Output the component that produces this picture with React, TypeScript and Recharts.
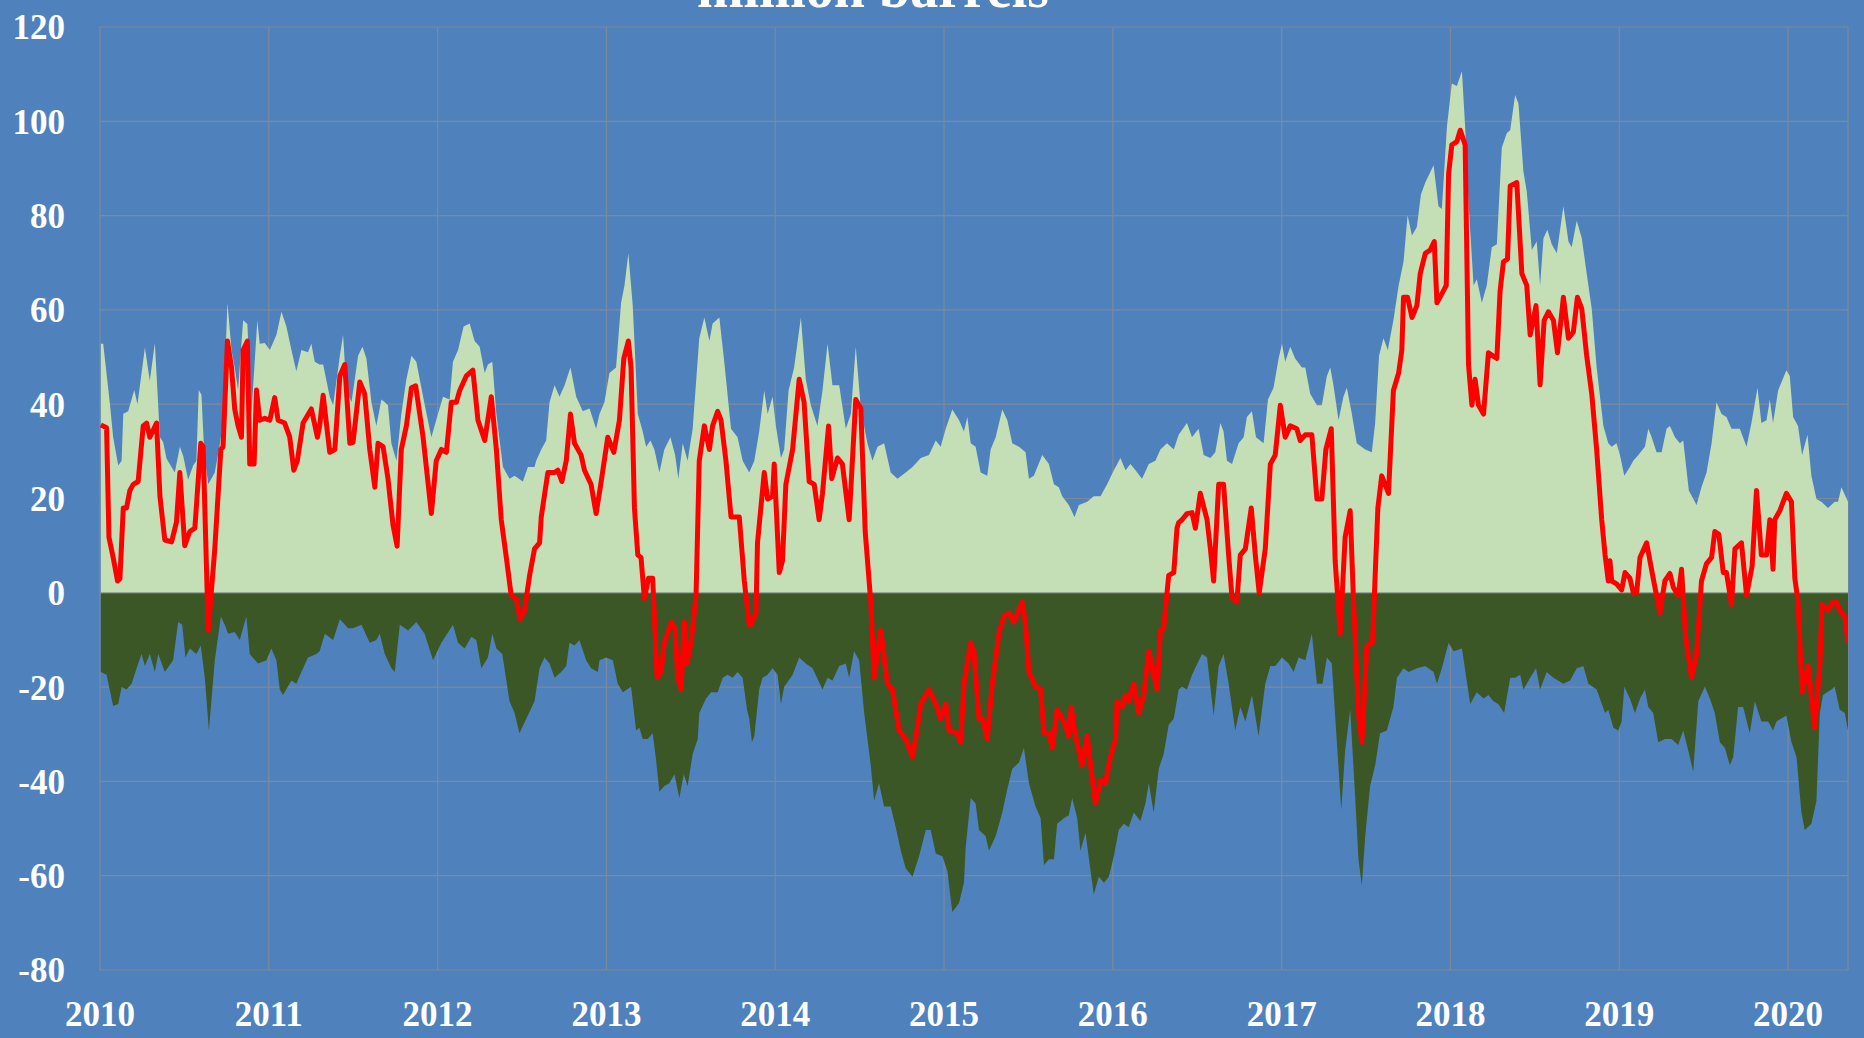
import { ComposedChart, Area, Line, XAxis, YAxis, CartesianGrid, ReferenceLine } from "recharts";

// weekly positioning, million barrels; [decimal year, value]
const LONG: [number, number][] = [
  [2010.005, 52.8], [2010.019, 52.8], [2010.059, 40], [2010.078, 33], [2010.108, 27], [2010.128, 28], [2010.138, 38], [2010.167, 38.5],
  [2010.203, 43], [2010.222, 40], [2010.266, 52], [2010.295, 45], [2010.325, 53], [2010.355, 33], [2010.374, 32], [2010.394, 28.5],
  [2010.443, 25.5], [2010.473, 31], [2010.493, 29], [2010.522, 24], [2010.552, 27], [2010.571, 28], [2010.585, 43], [2010.601, 42],
  [2010.617, 30], [2010.641, 23], [2010.68, 25.5], [2010.71, 31.5], [2010.729, 36.6], [2010.755, 61.5], [2010.779, 51.5], [2010.798, 47.8],
  [2010.818, 43], [2010.848, 57.8], [2010.873, 57], [2010.897, 38], [2010.932, 57.8], [2010.946, 52.8], [2010.976, 53], [2011.006, 51.5],
  [2011.045, 54.7], [2011.075, 59.6], [2011.104, 56.5], [2011.134, 51.5], [2011.163, 47], [2011.193, 51.5], [2011.232, 51], [2011.252, 52.8],
  [2011.272, 49], [2011.301, 48.4],
  [2011.322, 48.4], [2011.361, 41.6], [2011.381, 39.8], [2011.421, 50.3], [2011.44, 54.7], [2011.46, 43], [2011.49, 40.4], [2011.529, 50.3],
  [2011.555, 52.2], [2011.578, 49.7], [2011.608, 40.4], [2011.637, 35.4], [2011.667, 41], [2011.687, 40.4], [2011.706, 39.8], [2011.726, 31.7],
  [2011.756, 28], [2011.785, 37.9], [2011.815, 45.3], [2011.845, 50.3], [2011.874, 49], [2011.914, 41.6], [2011.963, 33], [2012.002, 37.9],
  [2012.032, 41.6], [2012.071, 41], [2012.091, 49], [2012.121, 51.5], [2012.154, 56.5], [2012.19, 57.1], [2012.219, 53.4], [2012.249, 52.2],
  [2012.279, 46.6], [2012.298, 48.4], [2012.324, 49], [2012.348, 37.9], [2012.387, 26.7], [2012.426, 24.2], [2012.456, 24.8], [2012.505, 23.6],
  [2012.535, 26.7], [2012.574, 26.7],
  [2012.584, 28], [2012.614, 30.4], [2012.643, 32.3], [2012.663, 40.4], [2012.693, 44], [2012.722, 41.6], [2012.752, 44], [2012.787, 47.8],
  [2012.821, 41.6], [2012.86, 38.5], [2012.9, 39.1], [2012.939, 34.8], [2012.959, 37.9], [2012.988, 40.4], [2013.018, 46.6], [2013.057, 47.8],
  [2013.087, 61.5], [2013.107, 65.2], [2013.13, 72], [2013.156, 60.9], [2013.186, 37.9], [2013.215, 34.2], [2013.235, 31], [2013.261, 32.3],
  [2013.284, 30.4], [2013.314, 25.5], [2013.343, 30.4], [2013.379, 33], [2013.407, 29.2], [2013.426, 24.2], [2013.452, 31.7], [2013.481, 28],
  [2013.511, 34.8], [2013.55, 54], [2013.58, 58.4], [2013.61, 53.4], [2013.629, 57.1], [2013.669, 58.4], [2013.698, 49], [2013.738, 34.8],
  [2013.777, 33], [2013.807, 28], [2013.846, 25.5],
  [2013.876, 28], [2013.905, 34.2], [2013.935, 42.9], [2013.955, 37.9], [2013.984, 41.6], [2014.004, 35.4], [2014.034, 28.6], [2014.053, 30.4],
  [2014.079, 42.9], [2014.112, 47.8], [2014.152, 58.4], [2014.181, 45.3], [2014.211, 39.8], [2014.25, 35.4], [2014.28, 42.9], [2014.31, 52.8],
  [2014.339, 44], [2014.379, 44], [2014.418, 34.8], [2014.448, 37.9], [2014.477, 52.2], [2014.507, 39.1], [2014.546, 31.7], [2014.576, 28],
  [2014.606, 31], [2014.645, 31.7], [2014.684, 25.5], [2014.724, 24.2], [2014.773, 25.5], [2014.813, 26.7], [2014.862, 28.6], [2014.911, 29.2],
  [2014.951, 32.3], [2014.98, 31], [2015.01, 34.8], [2015.049, 38.9], [2015.089, 36.6], [2015.118, 34.2],
  [2015.138, 37.3], [2015.158, 31.7], [2015.187, 31], [2015.217, 25.5], [2015.256, 24.8], [2015.276, 30.4], [2015.306, 33], [2015.345, 38.9],
  [2015.375, 36.6], [2015.404, 31.7], [2015.444, 31], [2015.483, 29.8], [2015.503, 24.2], [2015.532, 24.8], [2015.582, 29.2], [2015.621, 27.3],
  [2015.651, 23], [2015.68, 22.4], [2015.7, 20.5], [2015.739, 18.6], [2015.773, 16.1], [2015.799, 18.6], [2015.848, 19.3], [2015.887, 20.5],
  [2015.927, 20.5], [2015.966, 23], [2016.006, 26], [2016.045, 28.6], [2016.075, 26], [2016.104, 27.3], [2016.134, 26], [2016.173, 24.2],
  [2016.213, 27.3], [2016.252, 28], [2016.282, 30.4], [2016.321, 31.7], [2016.361, 30.4], [2016.39, 33.5],
  [2016.439, 36], [2016.469, 33], [2016.508, 34.8], [2016.538, 29.2], [2016.578, 28.6], [2016.607, 29.8], [2016.637, 36], [2016.656, 34.2],
  [2016.676, 28], [2016.706, 27.3], [2016.745, 31.7], [2016.775, 33], [2016.794, 37.3], [2016.824, 38.5], [2016.848, 33], [2016.893, 31.7],
  [2016.919, 41], [2016.952, 43.5], [2016.982, 49.7], [2017.002, 52.8], [2017.021, 49], [2017.051, 52.2], [2017.08, 49.7], [2017.12, 47.8],
  [2017.14, 47.8], [2017.169, 42.2], [2017.209, 39.8], [2017.238, 39.8], [2017.268, 46], [2017.288, 47.8], [2017.307, 44], [2017.337, 36.6],
  [2017.366, 41.6], [2017.386, 43.5], [2017.416, 37.9], [2017.445, 31.7], [2017.495, 30.4], [2017.534, 29.8], [2017.554, 36], [2017.577, 50.3],
  [2017.603, 54], [2017.629, 51.5], [2017.662, 57.8],
  [2017.693, 65.2], [2017.722, 70.2], [2017.746, 80.1], [2017.772, 75.8], [2017.801, 77.6], [2017.825, 84.5], [2017.851, 87], [2017.9, 90.7],
  [2017.929, 82], [2017.949, 81.4], [2017.979, 98.8], [2018.008, 108], [2018.038, 107.5], [2018.068, 110.6], [2018.087, 98.8], [2018.107, 82.6],
  [2018.137, 65.2], [2018.156, 66.5], [2018.186, 61.5], [2018.215, 65.2], [2018.245, 73.3], [2018.275, 73.9], [2018.304, 94.4], [2018.334, 97.5],
  [2018.354, 98.1], [2018.383, 105.6], [2018.403, 103.7], [2018.432, 89.4], [2018.452, 85.1], [2018.482, 72.7], [2018.511, 74.5], [2018.531, 65.2],
  [2018.551, 75.2], [2018.574, 77], [2018.6, 73.9], [2018.63, 72], [2018.669, 82], [2018.699, 74.5], [2018.718, 73.3], [2018.748, 78.9],
  [2018.778, 75.2], [2018.807, 67.7], [2018.837, 60.2], [2018.866, 47.8], [2018.906, 35.4], [2018.935, 31.7],
  [2018.955, 31], [2018.984, 31.7], [2019.004, 29.2], [2019.03, 24.8], [2019.063, 26.7], [2019.083, 28], [2019.113, 29.2], [2019.152, 31],
  [2019.172, 34.8], [2019.192, 33], [2019.221, 29.8], [2019.251, 29.8], [2019.28, 34.8], [2019.3, 35.4], [2019.33, 33], [2019.359, 31.7],
  [2019.379, 32.3], [2019.412, 21.7], [2019.458, 18.6], [2019.487, 22.4], [2019.517, 25.5], [2019.547, 31.7], [2019.576, 40.4], [2019.606, 37.9],
  [2019.635, 37.3], [2019.665, 34.8], [2019.714, 34.8], [2019.754, 31], [2019.783, 36], [2019.819, 43.5], [2019.842, 36], [2019.872, 36.6],
  [2019.892, 41], [2019.911, 36], [2019.941, 42.9], [2019.99, 47.2], [2020.01, 46], [2020.03, 37.3], [2020.059, 35.4], [2020.083, 29.2],
  [2020.115, 33.5], [2020.138, 24.8], [2020.168, 19.9], [2020.197, 19.3], [2020.237, 18], [2020.276, 19.3], [2020.296, 19.3], [2020.316, 22.4],
  [2020.355, 19.3],
];

const SHORT: [number, number][] = [
  [2010.005, -16.8], [2010.039, -17.4], [2010.078, -24], [2010.108, -23.6], [2010.128, -20], [2010.157, -20.5], [2010.187, -19.3], [2010.217, -16],
  [2010.246, -13], [2010.266, -15.5], [2010.295, -13], [2010.325, -16.8], [2010.345, -13], [2010.384, -16.8], [2010.433, -14.3], [2010.463, -6.2],
  [2010.487, -6.8], [2010.506, -13.7], [2010.532, -11.8], [2010.571, -13], [2010.597, -11.2], [2010.621, -18], [2010.645, -29.2], [2010.68, -14.3],
  [2010.716, -5], [2010.739, -6.8], [2010.759, -8.7], [2010.798, -8.3], [2010.828, -10], [2010.867, -5], [2010.887, -13], [2010.936, -15],
  [2010.986, -14.3], [2011.015, -11.8], [2011.045, -14.3], [2011.065, -20.5], [2011.084, -21.7], [2011.134, -18.6], [2011.163, -19.3], [2011.193, -16.8],
  [2011.232, -13.7], [2011.282, -13], [2011.301, -12.4],
  [2011.332, -8.7], [2011.381, -10], [2011.421, -5.6], [2011.47, -7.5], [2011.499, -7.5], [2011.549, -6.8], [2011.598, -10.6], [2011.637, -10],
  [2011.657, -8.7], [2011.687, -13], [2011.726, -16], [2011.746, -16.8], [2011.776, -6.8], [2011.825, -8], [2011.874, -6.2], [2011.923, -8.7],
  [2011.973, -14.3], [2012.022, -10.6], [2012.091, -6.8], [2012.121, -10.6], [2012.16, -11.8], [2012.2, -9.3], [2012.229, -10], [2012.259, -16],
  [2012.298, -13.7], [2012.324, -8.7], [2012.348, -11.8], [2012.383, -13], [2012.426, -23], [2012.456, -25.5], [2012.485, -29.8], [2012.525, -26.7],
  [2012.574, -23],
  [2012.604, -16], [2012.633, -13.7], [2012.663, -15], [2012.693, -18], [2012.732, -16.8], [2012.762, -15.5], [2012.781, -10.6], [2012.811, -11.2],
  [2012.84, -10], [2012.88, -14.3], [2012.909, -16], [2012.949, -16.8], [2012.959, -14.3], [2012.998, -13.7], [2013.038, -14.3], [2013.067, -19.3],
  [2013.097, -21.1], [2013.146, -19.9], [2013.176, -29.2], [2013.195, -28.6], [2013.215, -31], [2013.245, -31], [2013.274, -29.8], [2013.294, -35.4],
  [2013.314, -42.2], [2013.343, -41], [2013.373, -40.4], [2013.403, -38.5], [2013.432, -43.5], [2013.458, -38.5], [2013.481, -41], [2013.511, -34.2],
  [2013.541, -31], [2013.55, -25.5], [2013.59, -22.4], [2013.62, -21.1], [2013.659, -21.1], [2013.689, -18], [2013.718, -17.4], [2013.748, -18],
  [2013.777, -16.8], [2013.807, -18], [2013.833, -24.8], [2013.846, -26.7],
  [2013.862, -31.7], [2013.876, -30.4], [2013.905, -20.5], [2013.925, -18], [2013.955, -17.4], [2013.984, -16], [2014.014, -17.4], [2014.034, -23.6],
  [2014.053, -19.9], [2014.103, -17.4], [2014.142, -13.7], [2014.181, -15], [2014.221, -16], [2014.28, -20.5], [2014.31, -18], [2014.339, -18.6],
  [2014.379, -15.5], [2014.418, -15], [2014.438, -18], [2014.467, -12.4], [2014.497, -14.3], [2014.527, -25.5], [2014.566, -36.6], [2014.586, -44.1],
  [2014.615, -40.4], [2014.645, -45.3], [2014.684, -45.3], [2014.714, -49.7], [2014.744, -54.7], [2014.773, -58.4], [2014.813, -60.2], [2014.852, -55.9],
  [2014.892, -50.3], [2014.921, -50.3], [2014.951, -55.3], [2014.99, -55.9], [2015.02, -59], [2015.049, -67.7], [2015.089, -65.8], [2015.118, -61.5],
  [2015.128, -54], [2015.158, -43.5], [2015.187, -44.7], [2015.207, -50.3], [2015.246, -51.6], [2015.266, -54.7], [2015.306, -51.6], [2015.345, -46.6],
  [2015.375, -41.6], [2015.404, -37.3], [2015.444, -36], [2015.473, -32.9], [2015.503, -40.4], [2015.542, -45.3], [2015.572, -47.8], [2015.592, -57.8],
  [2015.621, -56.5], [2015.651, -56.5], [2015.67, -49], [2015.71, -47.8], [2015.739, -47.2], [2015.759, -43.5], [2015.789, -47.8], [2015.808, -54.7],
  [2015.838, -50.9], [2015.868, -59], [2015.887, -64], [2015.917, -60.2], [2015.947, -61.5], [2015.976, -60.2], [2016.006, -55.9], [2016.035, -50.3],
  [2016.065, -49], [2016.094, -49.7], [2016.124, -46.6], [2016.163, -48.4], [2016.193, -44.7], [2016.213, -40.4], [2016.242, -46.6], [2016.272, -37.3],
  [2016.301, -34.2], [2016.331, -28], [2016.361, -26.7], [2016.39, -20.5],
  [2016.41, -19.9], [2016.439, -20.5], [2016.469, -17.4], [2016.528, -13], [2016.558, -13.7], [2016.597, -26], [2016.627, -15.5], [2016.656, -13],
  [2016.686, -19.3], [2016.725, -29.2], [2016.755, -24.2], [2016.785, -27.3], [2016.824, -21.7], [2016.863, -30.4], [2016.903, -19.3], [2016.933, -15.5],
  [2016.962, -15.5], [2017.002, -13.7], [2017.041, -15], [2017.071, -16.8], [2017.1, -13.7], [2017.14, -14.3], [2017.179, -8.7], [2017.209, -19.3],
  [2017.242, -19.3], [2017.268, -13.7], [2017.297, -15], [2017.327, -31.7], [2017.353, -46], [2017.376, -33.5], [2017.406, -24.8], [2017.435, -42.9],
  [2017.455, -56.5], [2017.475, -62.1], [2017.495, -51.6], [2017.524, -41], [2017.554, -36.6], [2017.583, -29.8], [2017.623, -29.2], [2017.662, -24.2],
  [2017.683, -18], [2017.722, -16], [2017.752, -16.8], [2017.801, -16], [2017.851, -15.5], [2017.9, -16.8], [2017.92, -19.3], [2017.949, -16],
  [2017.989, -10.6], [2018.018, -12.4], [2018.068, -11.8], [2018.117, -23.6], [2018.156, -21.1], [2018.196, -22.4], [2018.225, -21.7], [2018.255, -23],
  [2018.284, -23.6], [2018.318, -25.5], [2018.354, -18], [2018.383, -18], [2018.413, -17.4], [2018.432, -20.5], [2018.472, -18], [2018.507, -16],
  [2018.531, -20.5], [2018.57, -16.8], [2018.61, -18], [2018.669, -19.3], [2018.709, -18.6], [2018.748, -16], [2018.787, -15.5], [2018.817, -19.3],
  [2018.866, -20.5], [2018.916, -25.5], [2018.935, -24.8],
  [2018.965, -28.6], [2018.994, -29.2], [2019.014, -27.3], [2019.03, -19.9], [2019.063, -22.4], [2019.093, -25.5], [2019.123, -22.4], [2019.152, -20.5],
  [2019.172, -24.2], [2019.201, -25.5], [2019.231, -31.7], [2019.27, -31], [2019.31, -31], [2019.349, -32.3], [2019.379, -29.2], [2019.409, -33.5],
  [2019.438, -37.9], [2019.468, -23], [2019.507, -19.9], [2019.537, -22.4], [2019.566, -25.5], [2019.596, -31.7], [2019.626, -32.9], [2019.655, -36.6],
  [2019.675, -34.8], [2019.704, -24.2], [2019.734, -24.2], [2019.773, -29.8], [2019.803, -23], [2019.842, -27.3], [2019.882, -27.3], [2019.911, -29.2],
  [2019.931, -27.3], [2019.99, -26], [2020.02, -31.7], [2020.05, -34.8], [2020.079, -46.6], [2020.099, -50.3], [2020.138, -49], [2020.168, -44.1],
  [2020.188, -25.5], [2020.207, -21.7], [2020.257, -20.5], [2020.276, -19.9], [2020.306, -24.8], [2020.336, -25.5], [2020.355, -29.2],
];

const NET: [number, number][] = [
  [2010.005, 35.6], [2010.039, 35], [2010.053, 11.8], [2010.078, 7.5], [2010.104, 2.5], [2010.118, 3], [2010.138, 18], [2010.157, 18],
  [2010.177, 21.7], [2010.197, 23], [2010.226, 23.6], [2010.256, 35.4], [2010.276, 36], [2010.295, 33], [2010.335, 36], [2010.355, 20.5],
  [2010.384, 11.2], [2010.424, 10.8], [2010.453, 15], [2010.473, 25.5], [2010.502, 10], [2010.532, 13], [2010.562, 13.7], [2010.597, 31.7],
  [2010.611, 31], [2010.641, -8], [2010.68, 9.3], [2010.716, 30.4], [2010.729, 31], [2010.755, 53.4], [2010.779, 47.8], [2010.798, 39],
  [2010.818, 35.4], [2010.838, 33], [2010.848, 51.5], [2010.873, 53.4], [2010.887, 27.3], [2010.913, 27.3], [2010.927, 43], [2010.946, 36.6],
  [2010.976, 37], [2011.006, 36.6], [2011.035, 41.4], [2011.055, 36.6], [2011.094, 36], [2011.124, 33], [2011.148, 26], [2011.169, 28],
  [2011.203, 36], [2011.252, 39], [2011.288, 33], [2011.301, 35.4],
  [2011.322, 41.9], [2011.361, 29.8], [2011.391, 30.4], [2011.421, 46], [2011.45, 48.4], [2011.48, 31.7], [2011.499, 31.9], [2011.539, 44.7],
  [2011.568, 42.2], [2011.598, 30.4], [2011.628, 22.4], [2011.647, 31.7], [2011.677, 31], [2011.706, 24.2], [2011.736, 14.3], [2011.76, 9.9],
  [2011.785, 30.4], [2011.815, 35.4], [2011.845, 43.5], [2011.87, 43.9], [2011.914, 33], [2011.963, 16.8], [2011.992, 28], [2012.022, 30.4],
  [2012.052, 29.8], [2012.081, 40.4], [2012.111, 40.4], [2012.131, 42.9], [2012.17, 46], [2012.209, 47.2], [2012.239, 36.6], [2012.279, 32.3],
  [2012.318, 41.6], [2012.348, 30.4], [2012.377, 15.5], [2012.407, 7.5], [2012.436, -0.6], [2012.466, -1.2], [2012.489, -5.6], [2012.515, -3.7],
  [2012.545, 3.7], [2012.574, 9.3],
  [2012.604, 10.6], [2012.614, 16.1], [2012.653, 25.5], [2012.693, 25.5], [2012.712, 26], [2012.736, 23.6], [2012.762, 28], [2012.787, 37.9],
  [2012.811, 31.7], [2012.85, 29.2], [2012.87, 26], [2012.909, 23], [2012.939, 16.8], [2012.969, 23.6], [2013.008, 33], [2013.044, 29.8],
  [2013.077, 36.6], [2013.103, 49.7], [2013.13, 53.4], [2013.146, 47.8], [2013.166, 18], [2013.186, 8], [2013.205, 7.5], [2013.225, -1.2],
  [2013.249, 3.1], [2013.274, 3.1], [2013.3, -18], [2013.324, -16.8], [2013.343, -10.6], [2013.383, -6.2], [2013.407, -7.5], [2013.422, -18],
  [2013.442, -20.5], [2013.462, -6.2], [2013.478, -15], [2013.501, -10.6], [2013.531, -0.6], [2013.55, 28], [2013.58, 35.4], [2013.61, 30.4],
  [2013.629, 35.4], [2013.659, 38.5], [2013.679, 36.6], [2013.708, 28], [2013.738, 16.1], [2013.787, 16.1], [2013.817, 2.5], [2013.846, -6.8],
  [2013.856, -6.8], [2013.886, -4.3], [2013.895, 10.6], [2013.935, 25.5], [2013.955, 19.9], [2013.984, 20.5], [2013.994, 27.3], [2014.024, 4.3],
  [2014.043, 6.8], [2014.063, 23], [2014.103, 30.4], [2014.142, 45.3], [2014.171, 40.4], [2014.201, 23.6], [2014.231, 23], [2014.26, 15.5],
  [2014.28, 21.1], [2014.316, 35.4], [2014.335, 24.2], [2014.369, 28.6], [2014.398, 27.3], [2014.438, 15.5], [2014.477, 41], [2014.507, 39.1],
  [2014.533, 13], [2014.566, -1.9], [2014.586, -18], [2014.625, -8], [2014.665, -19.3], [2014.694, -20.5], [2014.734, -29.2], [2014.773, -31],
  [2014.813, -34.8], [2014.842, -28.6], [2014.862, -23.6], [2014.911, -20.5], [2014.951, -23.6], [2014.98, -26.7], [2015.01, -23.6], [2015.03, -29.2],
  [2015.079, -29.8], [2015.099, -31.7], [2015.118, -19.3],
  [2015.158, -10.6], [2015.177, -12.4], [2015.207, -26.7], [2015.227, -26.7], [2015.256, -31], [2015.286, -19.3], [2015.325, -8.7], [2015.355, -5],
  [2015.384, -4.3], [2015.414, -6.2], [2015.463, -1.9], [2015.483, -6.8], [2015.503, -16.8], [2015.542, -19.9], [2015.572, -20.5], [2015.592, -29.8],
  [2015.621, -29.8], [2015.641, -32.9], [2015.67, -24.8], [2015.71, -27.3], [2015.739, -30.4], [2015.753, -24.2], [2015.779, -30.4], [2015.818, -36.6],
  [2015.848, -30.4], [2015.868, -36.6], [2015.897, -44.7], [2015.927, -39.8], [2015.956, -40.4], [2015.986, -34.8], [2016.016, -31], [2016.025, -23],
  [2016.055, -24.2], [2016.075, -21.7], [2016.094, -23], [2016.124, -19.3], [2016.154, -25.5], [2016.183, -21.7], [2016.213, -12.4], [2016.232, -15.5],
  [2016.262, -20.5], [2016.282, -8], [2016.301, -7.5], [2016.331, 3.7], [2016.361, 4.3], [2016.38, 13.7], [2016.39, 14.9],
  [2016.41, 15.5], [2016.439, 16.8], [2016.469, 17], [2016.489, 13.7], [2016.518, 21.1], [2016.558, 15.5], [2016.578, 9.3], [2016.597, 2.5],
  [2016.627, 23], [2016.656, 23], [2016.686, 8], [2016.706, -1.2], [2016.735, -1.9], [2016.755, 8], [2016.785, 9.3], [2016.82, 18],
  [2016.844, 8], [2016.867, 0], [2016.903, 9.3], [2016.933, 27.3], [2016.962, 29.2], [2016.992, 39.8], [2017.021, 33], [2017.051, 35.4],
  [2017.09, 34.8], [2017.11, 32.3], [2017.14, 33.5], [2017.179, 33.5], [2017.209, 19.9], [2017.238, 19.9], [2017.262, 30.4], [2017.294, 34.8],
  [2017.317, 6.8], [2017.347, -8.7], [2017.376, 11.8], [2017.406, 17.4], [2017.426, -1.9], [2017.455, -25.5], [2017.475, -31.7], [2017.505, -11.2],
  [2017.538, -10.6], [2017.57, 18], [2017.593, 24.8], [2017.633, 21.1], [2017.662, 42.9],
  [2017.693, 46.6], [2017.712, 51.5], [2017.722, 62.7], [2017.746, 62.7], [2017.772, 58.4], [2017.801, 60.9], [2017.821, 67.7], [2017.851, 72],
  [2017.88, 72.7], [2017.904, 74.5], [2017.92, 61.5], [2017.949, 63.4], [2017.975, 65.2], [2017.989, 88.8], [2018.008, 95], [2018.038, 95.7],
  [2018.058, 98.1], [2018.087, 95], [2018.107, 48.4], [2018.127, 39.8], [2018.146, 45.3], [2018.166, 39.8], [2018.196, 37.9], [2018.225, 50.9],
  [2018.275, 49.7], [2018.294, 64], [2018.314, 70.2], [2018.338, 70.8], [2018.354, 86.3], [2018.393, 87], [2018.423, 67.7], [2018.452, 65.2],
  [2018.472, 54.7], [2018.507, 60.9], [2018.531, 44.1], [2018.555, 57.8], [2018.58, 59.6], [2018.61, 57.8], [2018.634, 50.9], [2018.669, 62.7],
  [2018.699, 54], [2018.728, 55.3], [2018.752, 62.7], [2018.778, 60.2], [2018.807, 50.3], [2018.837, 42.2], [2018.866, 30.4], [2018.896, 15.5],
  [2018.916, 8], [2018.935, 2.5],
  [2018.945, 6.8], [2018.955, 2.5], [2018.984, 1.9], [2019.014, 0.6], [2019.034, 4.3], [2019.063, 3.1], [2019.083, 0], [2019.103, 0],
  [2019.123, 7.5], [2019.162, 10.6], [2019.201, 3.1], [2019.241, -4.3], [2019.27, 2.5], [2019.3, 4.1], [2019.32, 1.2], [2019.349, -0.6],
  [2019.369, 5], [2019.393, -9.3], [2019.428, -18], [2019.458, -13], [2019.487, 2.5], [2019.517, 6.2], [2019.547, 7.5], [2019.566, 13],
  [2019.59, 12.4], [2019.616, 4.3], [2019.635, 4.3], [2019.665, -2.5], [2019.685, 9.3], [2019.724, 10.6], [2019.754, -0.6], [2019.787, 5.6],
  [2019.813, 21.7], [2019.842, 8], [2019.872, 8], [2019.892, 15.5], [2019.911, 5], [2019.921, 15.5], [2019.951, 17.4], [2019.99, 21.1],
  [2020.02, 19.3], [2020.04, 3.1], [2020.059, -1.9], [2020.083, -21.1], [2020.119, -15.5], [2020.158, -28.6], [2020.188, -15.5], [2020.201, -2.5],
  [2020.237, -3.7], [2020.267, -1.9], [2020.286, -1.9], [2020.306, -3.7], [2020.336, -5], [2020.355, -10.6],
];

const YEAR_TICKS = [2010, 2011, 2012, 2013, 2014, 2015, 2016, 2017, 2018, 2019, 2020];
const VALUE_TICKS = [-80, -60, -40, -20, 0, 20, 40, 60, 80, 100, 120];
const TITLE = "million barrels";

const toPoints = (rows: [number, number][]) => rows.map(([t, v]) => ({ t, v }));

const tickStyle = {
  fill: "#FFFFFF",
  fontFamily: "'Liberation Serif', serif",
  fontWeight: 700,
  fontSize: 35,
};

export default function App() {
  return (
    <div style={{ position: "relative", width: 1864, height: 1038, background: "#4F81BD", overflow: "hidden" }}>
      <style>{"body{margin:0}"}</style>
      <ComposedChart width={1864} height={1038} margin={{ top: 27, right: 16, left: 0, bottom: 0 }}>
        <CartesianGrid stroke="#7F8A98" strokeWidth={1.2} />
        <XAxis
          type="number"
          dataKey="t"
          domain={[2010, 2020.355]}
          ticks={YEAR_TICKS}
          allowDataOverflow
          axisLine={false}
          tickLine={false}
          tickSize={0}
          tickMargin={31}
          height={68}
          tick={tickStyle}
        />
        <YAxis
          type="number"
          domain={[-80, 120]}
          ticks={VALUE_TICKS}
          axisLine={false}
          tickLine={false}
          tickSize={0}
          tickMargin={35}
          width={100}
          tick={tickStyle}
        />
        <Area data={toPoints(SHORT)} dataKey="v" type="linear" baseValue={0} stroke="none" fill="#3B5725" fillOpacity={1} isAnimationActive={false} dot={false} activeDot={false} />
        <Area data={toPoints(LONG)} dataKey="v" type="linear" baseValue={0} stroke="none" fill="#C4DFB5" fillOpacity={1} isAnimationActive={false} dot={false} activeDot={false} />
        <ReferenceLine y={0} stroke="#8E9A8A" strokeWidth={1} />
        <Line data={toPoints(NET)} dataKey="v" type="linear" stroke="#FF0000" strokeWidth={5} strokeLinejoin="round" dot={false} activeDot={false} isAnimationActive={false} />
      </ComposedChart>
      <svg width={1864} height={40} style={{ position: "absolute", left: 0, top: 0 }}>
        <text x={873} y={7} textAnchor="middle" fill="#FFFFFF" fontFamily="'Liberation Serif', serif" fontWeight={700} fontSize={56}>
          {TITLE}
        </text>
      </svg>
    </div>
  );
}
